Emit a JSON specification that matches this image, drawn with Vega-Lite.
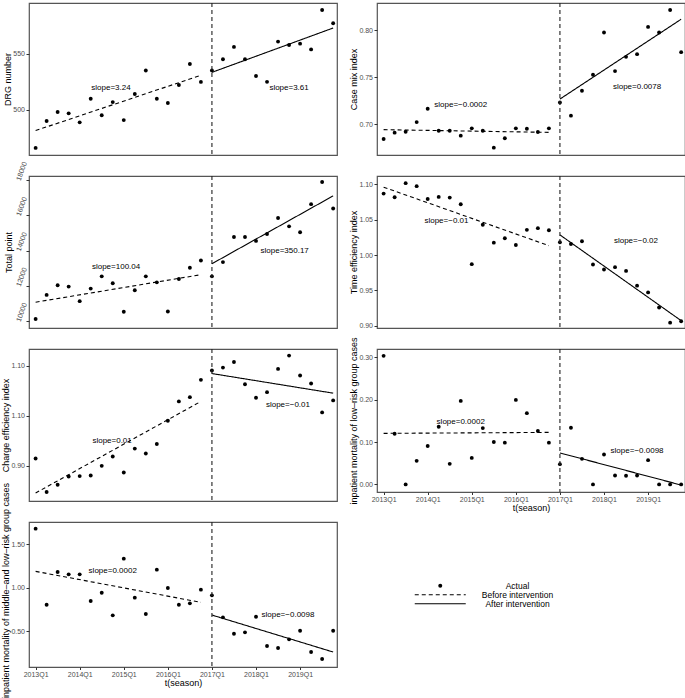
{
"$schema": "https://vega.github.io/schema/vega-lite/v6.json",
"padding": {"top": 1, "left": 0, "right": 0, "bottom": 0},
"columns": 2,
"spacing": {"row": 21, "column": 40},
"bounds": "flush",
"resolve": {"scale": {"strokeDash": "independent"}, "legend": {"strokeDash": "independent"}},
"config": {
  "font": "Liberation Sans",
  "view": {"stroke": "#555555", "strokeWidth": 1.2},
  "axis": {"grid": false, "domain": false, "tickColor": "#333333", "tickSize": 3, "labelColor": "#4d4d4d", "labelFontSize": 7, "labelFont": "Liberation Sans", "titleFont": "Liberation Sans", "titleFontSize": 9, "titleFontWeight": "normal", "titleColor": "black", "labelPadding": 1.5, "titlePadding": 0.5, "labelFlush": false, "labelOverlap": false},
  "axisX": {"tickSize": 2.5, "labelPadding": 0.5, "titlePadding": 1},
  "text": {"font": "Liberation Sans"}
},
"datasets": {
"pts": [
{"p":1,"t":0,"v":466.3},{"p":1,"t":1,"v":490.2},{"p":1,"t":2,"v":498.2},{"p":1,"t":3,"v":497},{"p":1,"t":4,"v":489},{"p":1,"t":5,"v":510},{"p":1,"t":6,"v":495.3},{"p":1,"t":7,"v":507},{"p":1,"t":8,"v":491},{"p":1,"t":9,"v":514.2},{"p":1,"t":10,"v":535},{"p":1,"t":11,"v":510},{"p":1,"t":12,"v":506.2},{"p":1,"t":13,"v":522.2},{"p":1,"t":14,"v":540.8},{"p":1,"t":15,"v":524.9},{"p":1,"t":16,"v":535},{"p":1,"t":17,"v":545},{"p":1,"t":18,"v":556},{"p":1,"t":19,"v":545},{"p":1,"t":20,"v":530.2},{"p":1,"t":21,"v":525},{"p":1,"t":22,"v":560.7},{"p":1,"t":23,"v":557.7},{"p":1,"t":24,"v":558.9},{"p":1,"t":25,"v":553.8},{"p":1,"t":26,"v":588.8},{"p":1,"t":27,"v":577},
{"p":2,"t":0,"v":0.684},{"p":2,"t":1,"v":0.6908},{"p":2,"t":2,"v":0.6918},{"p":2,"t":3,"v":0.7021},{"p":2,"t":4,"v":0.7163},{"p":2,"t":5,"v":0.6929},{"p":2,"t":6,"v":0.6929},{"p":2,"t":7,"v":0.6876},{"p":2,"t":8,"v":0.6954},{"p":2,"t":9,"v":0.6929},{"p":2,"t":10,"v":0.6748},{"p":2,"t":11,"v":0.6848},{"p":2,"t":12,"v":0.6954},{"p":2,"t":13,"v":0.695},{"p":2,"t":14,"v":0.6915},{"p":2,"t":15,"v":0.6954},{"p":2,"t":16,"v":0.723},{"p":2,"t":17,"v":0.7089},{"p":2,"t":18,"v":0.7355},{"p":2,"t":19,"v":0.7525},{"p":2,"t":20,"v":0.7975},{"p":2,"t":21,"v":0.7564},{"p":2,"t":22,"v":0.7716},{"p":2,"t":23,"v":0.7745},{"p":2,"t":24,"v":0.8035},{"p":2,"t":25,"v":0.7975},{"p":2,"t":26,"v":0.8216},{"p":2,"t":27,"v":0.7766},
{"p":3,"t":0,"v":10113},{"p":3,"t":1,"v":11484},{"p":3,"t":2,"v":12028},{"p":3,"t":3,"v":11953},{"p":3,"t":4,"v":11127},{"p":3,"t":5,"v":11840},{"p":3,"t":6,"v":12535},{"p":3,"t":7,"v":12141},{"p":3,"t":8,"v":10526},{"p":3,"t":9,"v":11747},{"p":3,"t":10,"v":12535},{"p":3,"t":11,"v":12197},{"p":3,"t":12,"v":10545},{"p":3,"t":13,"v":12385},{"p":3,"t":14,"v":13024},{"p":3,"t":15,"v":13437},{"p":3,"t":16,"v":12535},{"p":3,"t":17,"v":13343},{"p":3,"t":18,"v":14770},{"p":3,"t":19,"v":14770},{"p":3,"t":20,"v":14545},{"p":3,"t":21,"v":14939},{"p":3,"t":22,"v":15841},{"p":3,"t":23,"v":15371},{"p":3,"t":24,"v":15033},{"p":3,"t":25,"v":16629},{"p":3,"t":26,"v":17888},{"p":3,"t":27,"v":16385},
{"p":4,"t":0,"v":1.0871},{"p":4,"t":1,"v":1.0819},{"p":4,"t":2,"v":1.1019},{"p":4,"t":3,"v":1.0976},{"p":4,"t":4,"v":1.0795},{"p":4,"t":5,"v":1.0824},{"p":4,"t":6,"v":1.0814},{"p":4,"t":7,"v":1.0719},{"p":4,"t":8,"v":0.9871},{"p":4,"t":9,"v":1.0429},{"p":4,"t":10,"v":1.0176},{"p":4,"t":11,"v":1.0238},{"p":4,"t":12,"v":1.0143},{"p":4,"t":13,"v":1.0357},{"p":4,"t":14,"v":1.0381},{"p":4,"t":15,"v":1.0352},{"p":4,"t":16,"v":1.0181},{"p":4,"t":17,"v":1.0157},{"p":4,"t":18,"v":1.0195},{"p":4,"t":19,"v":0.9867},{"p":4,"t":20,"v":0.9795},{"p":4,"t":21,"v":0.9829},{"p":4,"t":22,"v":0.9776},{"p":4,"t":23,"v":0.9567},{"p":4,"t":24,"v":0.9471},{"p":4,"t":25,"v":0.9257},{"p":4,"t":26,"v":0.9043},{"p":4,"t":27,"v":0.9062},
{"p":5,"t":0,"v":0.914},{"p":5,"t":1,"v":0.8467},{"p":5,"t":2,"v":0.8613},{"p":5,"t":3,"v":0.878},{"p":5,"t":4,"v":0.8787},{"p":5,"t":5,"v":0.88},{"p":5,"t":6,"v":0.8993},{"p":5,"t":7,"v":0.918},{"p":5,"t":8,"v":0.886},{"p":5,"t":9,"v":0.934},{"p":5,"t":10,"v":0.924},{"p":5,"t":11,"v":0.9433},{"p":5,"t":12,"v":0.99},{"p":5,"t":13,"v":1.0287},{"p":5,"t":14,"v":1.0373},{"p":5,"t":15,"v":1.072},{"p":5,"t":16,"v":1.0907},{"p":5,"t":17,"v":1.0967},{"p":5,"t":18,"v":1.108},{"p":5,"t":19,"v":1.0633},{"p":5,"t":20,"v":1.036},{"p":5,"t":21,"v":1.0473},{"p":5,"t":22,"v":1.094},{"p":5,"t":23,"v":1.1207},{"p":5,"t":24,"v":1.0807},{"p":5,"t":25,"v":1.0647},{"p":5,"t":26,"v":1.0067},{"p":5,"t":27,"v":1.0307},
{"p":6,"t":0,"v":0.3038},{"p":6,"t":1,"v":0.1198},{"p":6,"t":2,"v":0},{"p":6,"t":3,"v":0.0556},{"p":6,"t":4,"v":0.0908},{"p":6,"t":5,"v":0.1363},{"p":6,"t":6,"v":0.0486},{"p":6,"t":7,"v":0.1973},{"p":6,"t":8,"v":0.0626},{"p":6,"t":9,"v":0.1331},{"p":6,"t":10,"v":0.1002},{"p":6,"t":11,"v":0.0987},{"p":6,"t":12,"v":0.1997},{"p":6,"t":13,"v":0.1684},{"p":6,"t":14,"v":0.1261},{"p":6,"t":15,"v":0.0987},{"p":6,"t":16,"v":0.0478},{"p":6,"t":17,"v":0.1339},{"p":6,"t":18,"v":0.0603},{"p":6,"t":19,"v":0},{"p":6,"t":20,"v":0.0705},{"p":6,"t":21,"v":0.0211},{"p":6,"t":22,"v":0.0204},{"p":6,"t":23,"v":0.0211},{"p":6,"t":24,"v":0.0572},{"p":6,"t":25,"v":0},{"p":6,"t":26,"v":0},{"p":6,"t":27,"v":0},
{"p":7,"t":0,"v":1.6756},{"p":7,"t":1,"v":0.8053},{"p":7,"t":2,"v":1.1794},{"p":7,"t":3,"v":1.1527},{"p":7,"t":4,"v":1.1527},{"p":7,"t":5,"v":0.8473},{"p":7,"t":6,"v":0.9427},{"p":7,"t":7,"v":0.6832},{"p":7,"t":8,"v":1.3321},{"p":7,"t":9,"v":0.8855},{"p":7,"t":10,"v":0.6985},{"p":7,"t":11,"v":1.2061},{"p":7,"t":12,"v":0.9962},{"p":7,"t":13,"v":0.8053},{"p":7,"t":14,"v":0.8206},{"p":7,"t":15,"v":0.9771},{"p":7,"t":16,"v":0.9122},{"p":7,"t":17,"v":0.6603},{"p":7,"t":18,"v":0.4733},{"p":7,"t":19,"v":0.4885},{"p":7,"t":20,"v":0.6679},{"p":7,"t":21,"v":0.3321},{"p":7,"t":22,"v":0.3092},{"p":7,"t":23,"v":0.4084},{"p":7,"t":24,"v":0.5076},{"p":7,"t":25,"v":0.2634},{"p":7,"t":26,"v":0.1832},{"p":7,"t":27,"v":0.5076}
],
"fits": [
{"p":1,"phase":"Before intervention","t":0,"v":481.7},{"p":1,"phase":"Before intervention","t":15,"v":530.8},{"p":1,"phase":"After intervention","t":16,"v":533.4},{"p":1,"phase":"After intervention","t":27,"v":572.8},
{"p":2,"phase":"Before intervention","t":0,"v":0.694},{"p":2,"phase":"Before intervention","t":15,"v":0.6911},{"p":2,"phase":"After intervention","t":16,"v":0.7266},{"p":2,"phase":"After intervention","t":27,"v":0.8117},
{"p":3,"phase":"Before intervention","t":0,"v":11070},{"p":3,"phase":"Before intervention","t":15,"v":12629},{"p":3,"phase":"After intervention","t":16,"v":13249},{"p":3,"phase":"After intervention","t":27,"v":17099},
{"p":4,"phase":"Before intervention","t":0,"v":1.0962},{"p":4,"phase":"Before intervention","t":15,"v":1.0133},{"p":4,"phase":"After intervention","t":16,"v":1.0286},{"p":4,"phase":"After intervention","t":27,"v":0.9071},
{"p":5,"phase":"Before intervention","t":0,"v":0.8447},{"p":5,"phase":"Before intervention","t":15,"v":1.0287},{"p":5,"phase":"After intervention","t":16,"v":1.0847},{"p":5,"phase":"After intervention","t":27,"v":1.0453},
{"p":6,"phase":"Before intervention","t":0,"v":0.1206},{"p":6,"phase":"Before intervention","t":15,"v":0.1229},{"p":6,"phase":"After intervention","t":16,"v":0.0744},{"p":6,"phase":"After intervention","t":27,"v":-0.0016},
{"p":7,"phase":"Before intervention","t":0,"v":1.187},{"p":7,"phase":"Before intervention","t":15,"v":0.832},{"p":7,"phase":"After intervention","t":16,"v":0.687},{"p":7,"phase":"After intervention","t":27,"v":0.2634}
],
"labs": [
{"p":1,"t":6.84,"v":519.2,"text":"slope=3.24"},{"p":1,"t":23.0,"v":519.2,"text":"slope=3.61"},
{"p":2,"t":7.0,"v":0.7199,"text":"slope=−0.0002"},{"p":2,"t":23.0,"v":0.7397,"text":"slope=0.0078"},
{"p":3,"t":7.3,"v":13061,"text":"slope=100.04"},{"p":3,"t":22.6,"v":13981,"text":"slope=350.17"},
{"p":4,"t":5.7,"v":1.0486,"text":"slope=−0.01"},{"p":4,"t":22.9,"v":1.02,"text":"slope=−0.02"},
{"p":5,"t":6.94,"v":0.95,"text":"slope=0.01"},{"p":5,"t":22.9,"v":1.0207,"text":"slope=−0.01"},
{"p":6,"t":7.0,"v":0.1472,"text":"slope=0.0002"},{"p":6,"t":23.0,"v":0.0799,"text":"slope=−0.0098"},
{"p":7,"t":7.0,"v":1.19,"text":"slope=0.0002"},{"p":7,"t":22.9,"v":0.687,"text":"slope=−0.0098"}
]
},
"concat": [
{"width": 308, "height": 152, "layer": [
 {"data": {"name": "pts"}, "transform": [{"filter": "datum.p == 1"}], "mark": {"type": "point", "filled": true, "color": "black", "size": 15, "opacity": 1},
  "encoding": {"x": {"field": "t", "type": "quantitative", "scale": {"domain": [-0.6, 27.35], "nice": false, "zero": false}, "axis": null},
   "y": {"field": "v", "type": "quantitative", "scale": {"domain": [460, 595], "nice": false, "zero": false}, "axis": {"title": "DRG number", "values": [500, 550], "tickCount": 12, "format": "d", "labelOverlap": false}}}},
 {"data": {"name": "fits"}, "transform": [{"filter": "datum.p == 1"}], "mark": {"type": "line", "color": "black", "strokeWidth": 1.1},
  "encoding": {"x": {"field": "t", "type": "quantitative", "axis": null}, "y": {"field": "v", "type": "quantitative"},
   "strokeDash": {"field": "phase", "type": "nominal", "scale": {"domain": ["Actual", "Before intervention", "After intervention"], "range": [[1, 0], [4, 3], [1, 0]]}, "legend": null}}},
 {"data": {"name": "pts"}, "transform": [{"filter": "datum.p == 1 && datum.t == 16"}], "mark": {"type": "rule", "color": "#222222", "strokeDash": [4, 3], "strokeWidth": 1.1},
  "encoding": {"x": {"field": "t", "type": "quantitative", "axis": null}}},
 {"data": {"name": "labs"}, "transform": [{"filter": "datum.p == 1"}], "mark": {"type": "text", "fontSize": 8, "color": "black", "align": "center", "baseline": "middle"},
  "encoding": {"x": {"field": "t", "type": "quantitative", "axis": null}, "y": {"field": "v", "type": "quantitative"}, "text": {"field": "text"}}}
]},
{"width": 308, "height": 152, "layer": [
 {"data": {"name": "pts"}, "transform": [{"filter": "datum.p == 2"}], "mark": {"type": "point", "filled": true, "color": "black", "size": 15, "opacity": 1},
  "encoding": {"x": {"field": "t", "type": "quantitative", "scale": {"domain": [-0.6, 27.35], "nice": false, "zero": false}, "axis": null},
   "y": {"field": "v", "type": "quantitative", "scale": {"domain": [0.667, 0.829], "nice": false, "zero": false}, "axis": {"title": "Case mix index", "values": [0.7, 0.75, 0.8], "tickCount": 12, "format": ".2f", "labelOverlap": false}}}},
 {"data": {"name": "fits"}, "transform": [{"filter": "datum.p == 2"}], "mark": {"type": "line", "color": "black", "strokeWidth": 1.1},
  "encoding": {"x": {"field": "t", "type": "quantitative", "axis": null}, "y": {"field": "v", "type": "quantitative"},
   "strokeDash": {"field": "phase", "type": "nominal", "scale": {"domain": ["Actual", "Before intervention", "After intervention"], "range": [[1, 0], [4, 3], [1, 0]]}, "legend": null}}},
 {"data": {"name": "pts"}, "transform": [{"filter": "datum.p == 2 && datum.t == 16"}], "mark": {"type": "rule", "color": "#222222", "strokeDash": [4, 3], "strokeWidth": 1.1},
  "encoding": {"x": {"field": "t", "type": "quantitative", "axis": null}}},
 {"data": {"name": "labs"}, "transform": [{"filter": "datum.p == 2"}], "mark": {"type": "text", "fontSize": 8, "color": "black", "align": "center", "baseline": "middle"},
  "encoding": {"x": {"field": "t", "type": "quantitative", "axis": null}, "y": {"field": "v", "type": "quantitative"}, "text": {"field": "text"}}}
]},
{"width": 308, "height": 152, "layer": [
 {"data": {"name": "pts"}, "transform": [{"filter": "datum.p == 3"}], "mark": {"type": "point", "filled": true, "color": "black", "size": 15, "opacity": 1},
  "encoding": {"x": {"field": "t", "type": "quantitative", "scale": {"domain": [-0.6, 27.35], "nice": false, "zero": false}, "axis": null},
   "y": {"field": "v", "type": "quantitative", "scale": {"domain": [9606, 18226], "nice": false, "zero": false}, "axis": {"title": "Total point", "values": [10000, 12000, 14000, 16000, 18000], "tickCount": 12, "format": "d", "labelAngle": -70, "labelAlign": "left", "labelBaseline": "middle", "labelPadding": 8, "labelOverlap": false}}}},
 {"data": {"name": "fits"}, "transform": [{"filter": "datum.p == 3"}], "mark": {"type": "line", "color": "black", "strokeWidth": 1.1},
  "encoding": {"x": {"field": "t", "type": "quantitative", "axis": null}, "y": {"field": "v", "type": "quantitative"},
   "strokeDash": {"field": "phase", "type": "nominal", "scale": {"domain": ["Actual", "Before intervention", "After intervention"], "range": [[1, 0], [4, 3], [1, 0]]}, "legend": null}}},
 {"data": {"name": "pts"}, "transform": [{"filter": "datum.p == 3 && datum.t == 16"}], "mark": {"type": "rule", "color": "#222222", "strokeDash": [4, 3], "strokeWidth": 1.1},
  "encoding": {"x": {"field": "t", "type": "quantitative", "axis": null}}},
 {"data": {"name": "labs"}, "transform": [{"filter": "datum.p == 3"}], "mark": {"type": "text", "fontSize": 8, "color": "black", "align": "center", "baseline": "middle"},
  "encoding": {"x": {"field": "t", "type": "quantitative", "axis": null}, "y": {"field": "v", "type": "quantitative"}, "text": {"field": "text"}}}
]},
{"width": 308, "height": 152, "layer": [
 {"data": {"name": "pts"}, "transform": [{"filter": "datum.p == 4"}], "mark": {"type": "point", "filled": true, "color": "black", "size": 15, "opacity": 1},
  "encoding": {"x": {"field": "t", "type": "quantitative", "scale": {"domain": [-0.6, 27.35], "nice": false, "zero": false}, "axis": null},
   "y": {"field": "v", "type": "quantitative", "scale": {"domain": [0.8967, 1.112], "nice": false, "zero": false}, "axis": {"title": "Time efficiency index", "values": [0.9, 0.95, 1.0, 1.05, 1.1], "tickCount": 12, "format": ".2f", "labelOverlap": false}}}},
 {"data": {"name": "fits"}, "transform": [{"filter": "datum.p == 4"}], "mark": {"type": "line", "color": "black", "strokeWidth": 1.1},
  "encoding": {"x": {"field": "t", "type": "quantitative", "axis": null}, "y": {"field": "v", "type": "quantitative"},
   "strokeDash": {"field": "phase", "type": "nominal", "scale": {"domain": ["Actual", "Before intervention", "After intervention"], "range": [[1, 0], [4, 3], [1, 0]]}, "legend": null}}},
 {"data": {"name": "pts"}, "transform": [{"filter": "datum.p == 4 && datum.t == 16"}], "mark": {"type": "rule", "color": "#222222", "strokeDash": [4, 3], "strokeWidth": 1.1},
  "encoding": {"x": {"field": "t", "type": "quantitative", "axis": null}}},
 {"data": {"name": "labs"}, "transform": [{"filter": "datum.p == 4"}], "mark": {"type": "text", "fontSize": 8, "color": "black", "align": "center", "baseline": "middle"},
  "encoding": {"x": {"field": "t", "type": "quantitative", "axis": null}, "y": {"field": "v", "type": "quantitative"}, "text": {"field": "text"}}}
]},
{"width": 308, "height": 152, "layer": [
 {"data": {"name": "pts"}, "transform": [{"filter": "datum.p == 5"}], "mark": {"type": "point", "filled": true, "color": "black", "size": 15, "opacity": 1},
  "encoding": {"x": {"field": "t", "type": "quantitative", "scale": {"domain": [-0.6, 27.35], "nice": false, "zero": false}, "axis": null},
   "y": {"field": "v", "type": "quantitative", "scale": {"domain": [0.8287, 1.134], "nice": false, "zero": false}, "axis": {"title": "Charge efficiency index", "values": [0.9, 1.0, 1.1], "tickCount": 12, "labelExpr": "datum.value == 1 ? '1.10' : format(datum.value, '.2f')", "labelOverlap": false}}}},
 {"data": {"name": "fits"}, "transform": [{"filter": "datum.p == 5"}], "mark": {"type": "line", "color": "black", "strokeWidth": 1.1},
  "encoding": {"x": {"field": "t", "type": "quantitative", "axis": null}, "y": {"field": "v", "type": "quantitative"},
   "strokeDash": {"field": "phase", "type": "nominal", "scale": {"domain": ["Actual", "Before intervention", "After intervention"], "range": [[1, 0], [4, 3], [1, 0]]}, "legend": null}}},
 {"data": {"name": "pts"}, "transform": [{"filter": "datum.p == 5 && datum.t == 16"}], "mark": {"type": "rule", "color": "#222222", "strokeDash": [4, 3], "strokeWidth": 1.1},
  "encoding": {"x": {"field": "t", "type": "quantitative", "axis": null}}},
 {"data": {"name": "labs"}, "transform": [{"filter": "datum.p == 5"}], "mark": {"type": "text", "fontSize": 8, "color": "black", "align": "center", "baseline": "middle"},
  "encoding": {"x": {"field": "t", "type": "quantitative", "axis": null}, "y": {"field": "v", "type": "quantitative"}, "text": {"field": "text"}}}
]},
{"width": 308, "height": 143, "layer": [
 {"data": {"name": "pts"}, "transform": [{"filter": "datum.p == 6"}], "mark": {"type": "point", "filled": true, "color": "black", "size": 15, "opacity": 1},
  "encoding": {"x": {"field": "t", "type": "quantitative", "scale": {"domain": [-0.6, 27.35], "nice": false, "zero": false}, "axis": {"title": "t(season)", "values": [0, 4, 8, 12, 16, 20, 24], "tickCount": 12, "labelExpr": "(2013 + floor(datum.value / 4)) + 'Q1'", "labelOverlap": false}},
   "y": {"field": "v", "type": "quantitative", "scale": {"domain": [-0.018, 0.32], "nice": false, "zero": false}, "axis": {"title": "inpatient mortality of low–risk group cases", "values": [0, 0.1, 0.2, 0.3], "tickCount": 12, "format": ".2f", "labelOverlap": false}}}},
 {"data": {"name": "fits"}, "transform": [{"filter": "datum.p == 6"}], "mark": {"type": "line", "color": "black", "strokeWidth": 1.1},
  "encoding": {"x": {"field": "t", "type": "quantitative"}, "y": {"field": "v", "type": "quantitative"},
   "strokeDash": {"field": "phase", "type": "nominal", "scale": {"domain": ["Actual", "Before intervention", "After intervention"], "range": [[1, 0], [4, 3], [1, 0]]}, "legend": null}}},
 {"data": {"name": "pts"}, "transform": [{"filter": "datum.p == 6 && datum.t == 16"}], "mark": {"type": "rule", "color": "#222222", "strokeDash": [4, 3], "strokeWidth": 1.1},
  "encoding": {"x": {"field": "t", "type": "quantitative"}}},
 {"data": {"name": "labs"}, "transform": [{"filter": "datum.p == 6"}], "mark": {"type": "text", "fontSize": 8, "color": "black", "align": "center", "baseline": "middle"},
  "encoding": {"x": {"field": "t", "type": "quantitative"}, "y": {"field": "v", "type": "quantitative"}, "text": {"field": "text"}}}
]},
{"width": 308, "height": 145, "layer": [
 {"data": {"name": "pts"}, "transform": [{"filter": "datum.p == 7"}], "mark": {"type": "point", "filled": true, "color": "black", "size": 15, "opacity": 1},
  "encoding": {"x": {"field": "t", "type": "quantitative", "scale": {"domain": [-0.6, 27.35], "nice": false, "zero": false}, "axis": {"title": "t(season)", "values": [0, 4, 8, 12, 16, 20, 24], "tickCount": 12, "labelExpr": "(2013 + floor(datum.value / 4)) + 'Q1'", "labelOverlap": false}},
   "y": {"field": "v", "type": "quantitative", "scale": {"domain": [0.092, 1.752], "nice": false, "zero": false}, "axis": {"title": "inpatient mortality of middle–and low–risk group cases", "values": [0.5, 1.0, 1.5], "tickCount": 12, "format": ".2f", "titleY": 68.5, "labelOverlap": false}}}},
 {"data": {"name": "fits"}, "transform": [{"filter": "datum.p == 7"}], "mark": {"type": "line", "color": "black", "strokeWidth": 1.1},
  "encoding": {"x": {"field": "t", "type": "quantitative"}, "y": {"field": "v", "type": "quantitative"},
   "strokeDash": {"field": "phase", "type": "nominal", "scale": {"domain": ["Actual", "Before intervention", "After intervention"], "range": [[1, 0], [4, 3], [1, 0]]},
    "legend": {"title": null, "orient": "none", "legendX": 407, "legendY": 59.5, "padding": 0, "labelAlign": "center", "labelOffset": 73, "labelFontSize": 8.5, "labelColor": "black", "labelFont": "Liberation Sans", "rowPadding": -0.5, "symbolOffset": 0, "symbolStrokeWidth": 1.1, "symbolStrokeColor": "black",
     "encode": {"symbols": {"update": {"shape": {"signal": "datum.value === 'Actual' ? 'circle' : 'M-12.75,0H12.75'"}, "size": {"value": 16}, "fill": {"signal": "datum.value === 'Actual' ? 'black' : 'transparent'"}, "stroke": {"signal": "datum.value === 'Actual' ? 'transparent' : 'black'"}}}}}}}},
 {"data": {"name": "pts"}, "transform": [{"filter": "datum.p == 7 && datum.t == 16"}], "mark": {"type": "rule", "color": "#222222", "strokeDash": [4, 3], "strokeWidth": 1.1},
  "encoding": {"x": {"field": "t", "type": "quantitative"}}},
 {"data": {"name": "labs"}, "transform": [{"filter": "datum.p == 7"}], "mark": {"type": "text", "fontSize": 8, "color": "black", "align": "center", "baseline": "middle"},
  "encoding": {"x": {"field": "t", "type": "quantitative"}, "y": {"field": "v", "type": "quantitative"}, "text": {"field": "text"}}}
]}
]
}
